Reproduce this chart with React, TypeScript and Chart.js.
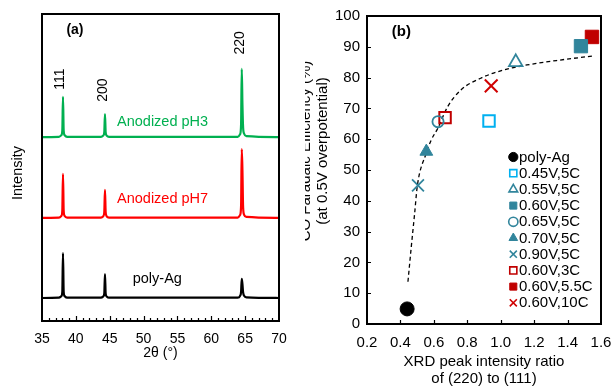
import React, { useEffect, useRef } from 'react';
import { Chart, registerables } from 'chart.js';
import { drawPoint } from 'chart.js/helpers';

Chart.register(...registerables);

const FONT = '"Liberation Sans", Arial, Helvetica, sans-serif';

// ---------- Panel (a): XRD patterns ----------
const twoTheta = [35, 37.5, 37.85, 38.0, 38.1, 38.2, 38.35, 38.7, 43.7, 44.05, 44.2, 44.3, 44.4, 44.55, 44.9, 63.9, 64.25, 64.4, 64.5, 64.6, 64.7, 64.85, 65.2, 70];
const pH3Intensity = [59.9, 60.0, 60.5, 62.0, 73.0, 62.0, 60.5, 60.0, 60.0, 60.4, 61.5, 67.4, 61.5, 60.4, 60.0, 60.0, 60.8, 64.0, 82.1, 70.5, 63.0, 61.0, 60.2, 59.9];
const pH7Intensity = [33.6, 33.7, 34.2, 36.0, 47.9, 36.0, 34.2, 33.7, 33.7, 34.1, 35.5, 42.7, 35.5, 34.1, 33.7, 33.7, 34.5, 37.5, 56.0, 49.0, 37.0, 34.6, 33.9, 33.6];
const polyAgIntensity = [7.5, 7.6, 8.1, 9.5, 22.1, 9.5, 8.1, 7.6, 7.6, 8.0, 9.0, 15.3, 9.0, 8.0, 7.6, 7.6, 8.2, 9.5, 13.7, 12.0, 9.3, 8.2, 7.7, 7.5];
const xrdSeriesNames = ['Anodized pH3', 'Anodized pH7', 'poly-Ag'];
const xrdColors = ['#00b050', '#ff0000', '#000000'];
const hklLabels = ['111', '200', '220'];
const twoThetaTicks = [35, 40, 45, 50, 55, 60, 65, 70];

// ---------- Panel (b): FE vs peak ratio ----------
const sampleNames = ['poly-Ag', '0.45V,5C', '0.55V,5C', '0.60V,5C', '0.65V,5C', '0.70V,5C', '0.90V,5C', '0.60V,3C', '0.60V,5.5C', '0.60V,10C'];
const peakRatio = [0.44, 0.93, 1.09, 1.48, 0.625, 0.555, 0.505, 0.667, 1.546, 0.943];
const coEfficiency = [4.9, 65.9, 85.0, 90.2, 65.7, 56.0, 45.0, 67.0, 93.2, 77.3];
const trendRatio = [0.445, 0.465, 0.485, 0.501, 0.554, 0.584, 0.623, 0.682, 0.762, 0.88, 1.019, 1.157, 1.355, 1.55];
const trendEfficiency = [13.7, 25.1, 35.9, 44.8, 55.4, 59.7, 63.5, 70.5, 76.0, 79.8, 82.5, 84.1, 85.7, 87.0];
const ratioTicks = [0.2, 0.4, 0.6, 0.8, 1.0, 1.2, 1.4, 1.6];
const efficiencyTicks = [0, 10, 20, 30, 40, 50, 60, 70, 80, 90, 100];

const TEAL = '#31859c';
const LBLUE = '#00b0f0';
const DRED = '#c00000';
const CLEAR = 'rgba(0,0,0,0)';

const markerStyles = [
  { pointStyle: 'circle', radius: 7, bg: '#000000', border: '#000000', bw: 1 },
  { pointStyle: 'rect', radius: 8.1, bg: CLEAR, border: LBLUE, bw: 2 },
  { pointStyle: 'triangle', radius: 7.8, bg: CLEAR, border: TEAL, bw: 1.8 },
  { pointStyle: 'rect', radius: 9.4, bg: TEAL, border: TEAL, bw: 1 },
  { pointStyle: 'circle', radius: 5.6, bg: CLEAR, border: TEAL, bw: 1.8 },
  { pointStyle: 'triangle', radius: 7.4, bg: TEAL, border: TEAL, bw: 1 },
  { pointStyle: 'crossRot', radius: 8.4, bg: TEAL, border: TEAL, bw: 1.8 },
  { pointStyle: 'rect', radius: 8.1, bg: CLEAR, border: DRED, bw: 2 },
  { pointStyle: 'rect', radius: 9.5, bg: DRED, border: DRED, bw: 1 },
  { pointStyle: 'crossRot', radius: 9, bg: '#d00000', border: '#d00000', bw: 2 },
];

type Note = {
  text: string;
  x: number;
  y: number;
  data?: boolean;
  color?: string;
  size?: number;
  bold?: boolean;
  rotate?: boolean;
  align?: CanvasTextAlign;
};

function notesPlugin(id: string, notes: Note[]) {
  return {
    id,
    afterDraw(chart: any) {
      const { ctx } = chart;
      for (const n of notes) {
        const px = n.data ? chart.scales.x.getPixelForValue(n.x) : n.x;
        const py = n.data ? chart.scales.y.getPixelForValue(n.y) : n.y;
        ctx.save();
        ctx.translate(px, py);
        if (n.rotate) ctx.rotate(-Math.PI / 2);
        ctx.font = `${n.bold ? 'bold ' : ''}${n.size ?? 14}px ${FONT}`;
        ctx.fillStyle = n.color ?? '#000';
        ctx.textAlign = n.align ?? 'center';
        ctx.textBaseline = 'middle';
        ctx.fillText(n.text, 0, 0);
        ctx.restore();
      }
    },
  };
}

const frameA = {
  id: 'frameA',
  afterDatasetsDraw(chart: any) {
    const { ctx, chartArea: a } = chart;
    const x = chart.scales.x;
    ctx.save();
    ctx.strokeStyle = '#000';
    ctx.lineWidth = 1.2;
    ctx.beginPath();
    for (let v = twoThetaTicks[0] + 1; v < twoThetaTicks[twoThetaTicks.length - 1]; v++) {
      const px = Math.round(x.getPixelForValue(v)) + 0.5;
      const len = v % 5 === 0 ? 5 : 3;
      ctx.moveTo(px, a.bottom);
      ctx.lineTo(px, a.bottom - len);
    }
    ctx.stroke();
    ctx.lineWidth = 2;
    ctx.strokeRect(a.left, a.top, a.right - a.left, a.bottom - a.top);
    ctx.restore();
  },
};

const frameB = {
  id: 'frameB',
  afterDatasetsDraw(chart: any) {
    const { ctx, chartArea: a } = chart;
    const { x, y } = chart.scales;
    ctx.save();
    ctx.strokeStyle = '#000';
    ctx.lineWidth = 1.2;
    ctx.beginPath();
    for (const v of ratioTicks.slice(1, -1)) {
      const px = Math.round(x.getPixelForValue(v)) + 0.5;
      ctx.moveTo(px, a.bottom);
      ctx.lineTo(px, a.bottom - 4);
    }
    for (const v of efficiencyTicks.slice(1, -1)) {
      const py = Math.round(y.getPixelForValue(v)) + 0.5;
      ctx.moveTo(a.left, py);
      ctx.lineTo(a.left + 4, py);
    }
    ctx.stroke();
    ctx.lineWidth = 2;
    ctx.strokeRect(a.left, a.top, a.right - a.left, a.bottom - a.top);
    ctx.restore();
  },
};

// legend drawn inside the plot area (canvas px of the first row and spacing)
const legendB = {
  id: 'legendB',
  afterDraw(chart: any) {
    const { ctx } = chart;
    const markerX = 223.3;
    const textX = 229;
    const firstY = 157;
    const rowH = 16.2;
    ctx.save();
    ctx.font = `15px ${FONT}`;
    ctx.textBaseline = 'middle';
    ctx.textAlign = 'left';
    sampleNames.forEach((name, i) => {
      const m = markerStyles[i];
      const cy = firstY + i * rowH;
      ctx.fillStyle = m.bg;
      ctx.strokeStyle = m.border;
      ctx.lineWidth = m.bg === CLEAR || m.pointStyle === 'crossRot' ? 1.6 : 1;
      drawPoint(ctx, { pointStyle: m.pointStyle, radius: m.pointStyle === 'circle' ? 4.6 : 5, rotation: 0, borderWidth: ctx.lineWidth } as any, markerX, cy);
      ctx.fillStyle = '#000';
      ctx.fillText(name, textX, cy + 0.5);
    });
    ctx.restore();
  },
};

const zeroPad = (s: any) => {
  s.paddingLeft = 0;
  s.paddingRight = 0;
  s.paddingTop = 0;
  s.paddingBottom = 0;
};

export default function App() {
  const refA = useRef<HTMLCanvasElement>(null);
  const refB = useRef<HTMLCanvasElement>(null);

  useEffect(() => {
    const charts: Chart[] = [];
    const xrdSeries = [pH3Intensity, pH7Intensity, polyAgIntensity];
    try {
      charts.push(
        new Chart(refA.current as HTMLCanvasElement, {
          type: 'line',
          data: {
            datasets: xrdSeries.map((vals, i) => ({
              label: xrdSeriesNames[i],
              data: twoTheta.map((t, j) => ({ x: t, y: vals[j] })),
              borderColor: xrdColors[i],
              backgroundColor: xrdColors[i],
              borderWidth: 2.2,
              pointRadius: 0,
              cubicInterpolationMode: 'monotone',
              fill: false,
            })),
          },
          options: {
            animation: false,
            responsive: false,
            devicePixelRatio: 1,
            layout: { padding: { left: 42, right: 13, top: 14, bottom: 0 } },
            plugins: { legend: { display: false }, tooltip: { enabled: false } },
            scales: {
              x: {
                type: 'linear',
                min: 35,
                max: 70,
                afterBuildTicks: (s: any) => {
                  s.ticks = twoThetaTicks.map((v) => ({ value: v }));
                },
                ticks: { font: { family: FONT, size: 14 }, color: '#000', padding: 9.6, maxRotation: 0 },
                grid: { display: false, drawTicks: false },
                border: { display: false },
                title: {
                  display: true,
                  text: '2θ (°)',
                  color: '#000',
                  font: { family: FONT, size: 14 },
                  padding: { top: 0, bottom: 25.6 },
                },
                afterFit: (s: any) => {
                  s.height = 66;
                  zeroPad(s);
                },
              },
              y: { type: 'linear', min: 0, max: 100, display: false },
            },
          } as any,
          plugins: [
            frameA,
            notesPlugin('notesA', [
              { text: 'Intensity', x: 18, y: 173, rotate: true, size: 14.5 },
              { text: '(a)', x: 38.6, y: 94.8, data: true, bold: true, size: 14, align: 'left' },
              { text: hklLabels[0], x: 37.66, y: 78.8, data: true, rotate: true, size: 14 },
              { text: hklLabels[1], x: 44.0, y: 75.2, data: true, rotate: true, size: 14 },
              { text: hklLabels[2], x: 64.24, y: 90.6, data: true, rotate: true, size: 14 },
              { text: xrdSeriesNames[0], x: 46.08, y: 64.8, data: true, color: xrdColors[0], size: 14.5, align: 'left' },
              { text: xrdSeriesNames[1], x: 46.08, y: 39.7, data: true, color: xrdColors[1], size: 14.5, align: 'left' },
              { text: xrdSeriesNames[2], x: 48.4, y: 13.7, data: true, color: xrdColors[2], size: 14.5, align: 'left' },
            ]),
          ],
        })
      );
    } catch (e) {
      console.error(e);
    }

    const scatterSets = sampleNames.map((name, i) => {
      const m = markerStyles[i];
      return {
        label: name,
        data: [{ x: peakRatio[i], y: coEfficiency[i] }],
        pointStyle: m.pointStyle,
        pointRadius: m.radius,
        pointBackgroundColor: m.bg,
        pointBorderColor: m.border,
        pointBorderWidth: m.bw,
        backgroundColor: m.bg,
        borderColor: m.border,
        showLine: false,
        clip: false,
      };
    });
    const trendSet = {
      label: 'trend',
      data: trendRatio.map((r, i) => ({ x: r, y: trendEfficiency[i] })),
      showLine: true,
      borderColor: '#000',
      borderWidth: 1.3,
      borderDash: [4, 3],
      pointRadius: 0,
      cubicInterpolationMode: 'monotone',
      fill: false,
    };

    try {
      charts.push(
        new Chart(refB.current as HTMLCanvasElement, {
          type: 'scatter',
          data: { datasets: [...scatterSets, trendSet] as any },
          options: {
            animation: false,
            responsive: false,
            devicePixelRatio: 1,
            layout: { padding: { left: 0, right: 8, top: 16, bottom: 0 } },
            plugins: { tooltip: { enabled: false }, legend: { display: false } },
            scales: {
              x: {
                type: 'linear',
                min: 0.2,
                max: 1.6,
                afterBuildTicks: (s: any) => {
                  s.ticks = ratioTicks.map((v) => ({ value: v }));
                },
                ticks: {
                  font: { family: FONT, size: 15 },
                  color: '#000',
                  padding: 10,
                  maxRotation: 0,
                  callback: (v: any) => Number(v).toFixed(1),
                },
                grid: { display: false, drawTicks: false },
                border: { display: false },
                title: {
                  display: true,
                  text: ['XRD peak intensity ratio', 'of (220) to (111)'],
                  color: '#000',
                  font: { family: FONT, size: 15, lineHeight: 1.1 },
                  padding: { top: 0, bottom: 0 },
                },
                afterFit: (s: any) => {
                  s.height = 63;
                  zeroPad(s);
                },
              },
              y: {
                type: 'linear',
                min: 0,
                max: 100,
                afterBuildTicks: (s: any) => {
                  s.ticks = efficiencyTicks.map((v) => ({ value: v }));
                },
                ticks: { font: { family: FONT, size: 15 }, color: '#000', padding: 7 },
                grid: { display: false, drawTicks: false },
                border: { display: false },
                afterFit: (s: any) => {
                  s.width = 77;
                  zeroPad(s);
                },
              },
            },
          } as any,
          plugins: [
            frameB,
            legendB,
            notesPlugin('notesB', [
              { text: '(b)', x: 0.348, y: 94.8, data: true, bold: true, size: 15, align: 'left' },
              { text: 'CO Faradaic Efficiency (%)', x: 16, y: 151, rotate: true, size: 15 },
              { text: '(at 0.5V overpotential)', x: 33, y: 151, rotate: true, size: 15 },
            ]),
          ],
        })
      );
    } catch (e) {
      console.error(e);
    }

    return () => {
      charts.forEach((c) => c.destroy());
    };
  }, []);

  return (
    <div style={{ position: 'absolute', left: 0, top: 0, width: 612, height: 387, background: '#fff', overflow: 'hidden' }}>
      <canvas ref={refA} width={292} height={387} style={{ position: 'absolute', left: 0, top: 0, width: 292, height: 387 }} />
      <div style={{ position: 'absolute', left: 305, top: 0, width: 307, height: 387, overflow: 'hidden' }}>
        <canvas ref={refB} width={322} height={387} style={{ position: 'absolute', left: -15, top: 0, width: 322, height: 387 }} />
      </div>
    </div>
  );
}
